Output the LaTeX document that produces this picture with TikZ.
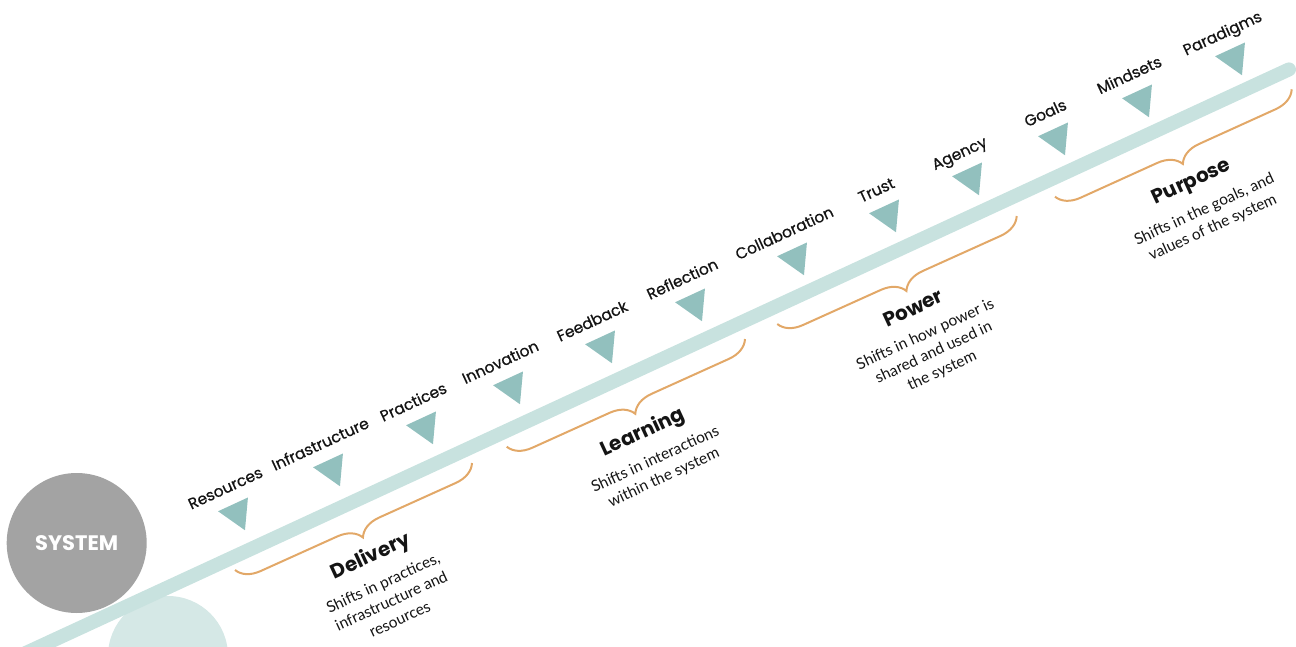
\documentclass[tikz,border=0pt]{standalone}
\usepackage{fontspec}
\setmainfont{Poppins}
\newfontfamily\latofont{Lato}
\newfontfamily\popmed{Poppins}[FakeBold=0.6]
\usetikzlibrary{shapes.geometric,decorations.pathreplacing,calc}
\definecolor{triteal}{RGB}{146,192,190}
\definecolor{lineteal}{RGB}{200,226,223}
\definecolor{circteal}{RGB}{213,232,230}
\definecolor{sysgray}{RGB}{163,163,163}
\definecolor{braceor}{RGB}{226,168,104}
\definecolor{ink}{RGB}{20,20,20}
\begin{document}
\begin{tikzpicture}[x=1pt,y=-1pt,
  tri/.style={regular polygon, regular polygon sides=3, fill=triteal, minimum size=38pt, inner sep=0pt, rotate=204.8},
  lbl/.style={font=\popmed\fontsize{15.5}{18}\selectfont, rotate=24.8, anchor=base, inner sep=0pt, text=ink},
  ttl/.style={font=\fontsize{20}{24}\selectfont\bfseries, rotate=24.8, inner sep=0pt, text=ink},
  dsc/.style={font=\latofont\fontsize{15.5}{20}\selectfont, rotate=24.8, align=center, anchor=north, inner sep=0pt, text=ink},
  brc/.style={draw=braceor, line width=2pt, decorate, decoration={brace, amplitude=23pt, mirror}}
]
\useasboundingbox (0,0) rectangle (1296,647);
\clip (0,0) rectangle (1296,647);

% circles
\node[circle, fill=circteal, minimum size=120pt, inner sep=0pt] (base) at (168,656) {};
\node[circle, fill=sysgray, minimum size=140pt, inner sep=0pt, text=white,
      font=\bfseries\fontsize{21}{21}\selectfont] (sys) at (76.7,543) {SYSTEM};

% main line
\coordinate (ls) at (0,664.9);
\coordinate (le) at (1289,69.4);
\draw[lineteal, line width=14pt, line cap=round] (ls) -- (le);

% triangles
\node[tri] (t1) at (237,513) {};
\node[tri] (t2) at (332,469) {};
\node[tri] (t3) at (425,427) {};
\node[tri] (t4) at (512,387) {};
\node[tri] (t5) at (604,346) {};
\node[tri] (t6) at (694,304) {};
\node[tri] (t7) at (796,258) {};
\node[tri] (t8) at (888,215) {};
\node[tri] (t9) at (971,178) {};
\node[tri] (t10) at (1057,138) {};
\node[tri] (t11) at (1141,100) {};
\node[tri] (t12) at (1234,58) {};

% labels
\node[lbl] (l1) at ($(t1)+(-9.4,-20)$) {Resources};
\node[lbl] (l2) at ($(t2)+(-9.4,-20)$) {Infrastructure};
\node[lbl] (l3) at ($(t3)+(-9.4,-20)$) {Practices};
\node[lbl] (l4) at ($(t4)+(-9.4,-20)$) {Innovation};
\node[lbl] (l5) at ($(t5)+(-9.4,-20)$) {Feedback};
\node[lbl] (l6) at ($(t6)+(-9.4,-20)$) {Reflection};
\node[lbl] (l7) at ($(t7)+(-9.4,-20)$) {Collaboration};
\node[lbl] (l8) at ($(t8)+(-9.4,-20)$) {Trust};
\node[lbl] (l9) at ($(t9)+(-9.4,-20)$) {Agency};
\node[lbl] (l10) at ($(t10)+(-9.4,-20)$) {Goals};
\node[lbl] (l11) at ($(t11)+(-9.4,-20)$) {Mindsets};
\node[lbl] (l12) at ($(t12)+(-9.4,-20)$) {Paradigms};

% braces
\coordinate (b1a) at (235,570);   \coordinate (b1b) at (472,463);
\coordinate (b2a) at (506.7,446.7); \coordinate (b2b) at (745,339);
\coordinate (b3a) at (777.3,324); \coordinate (b3b) at (1016.7,216);
\coordinate (b4a) at (1055,196.7); \coordinate (b4b) at (1291.7,89.3);
\draw[brc] (b1a) -- (b1b);
\draw[brc] (b2a) -- (b2b);
\draw[brc] (b3a) -- (b3b);
\draw[brc] (b4a) -- (b4b);

% titles
\node[ttl] (h1) at (371,557) {Delivery};
\node[ttl] (h2) at (643,433) {Learning};
\node[ttl] (h3) at (913,308) {Power};
\node[ttl] (h4) at (1192,183) {Purpose};

% descriptions
\node[dsc] (d1) at ($(h1.center)+(9.4,20.2)$) {Shifts in practices,\\infrastructure and\\resources};
\node[dsc] (d2) at ($(h2.center)+(9.4,20.2)$) {Shifts in interactions\\within the system};
\node[dsc] (d3) at ($(h3.center)+(9.4,20.2)$) {Shifts in how power is\\shared and used in\\the system};
\node[dsc] (d4) at ($(h4.center)+(9.4,20.2)$) {Shifts in the goals, and\\values of the system};
\end{tikzpicture}
\end{document}
